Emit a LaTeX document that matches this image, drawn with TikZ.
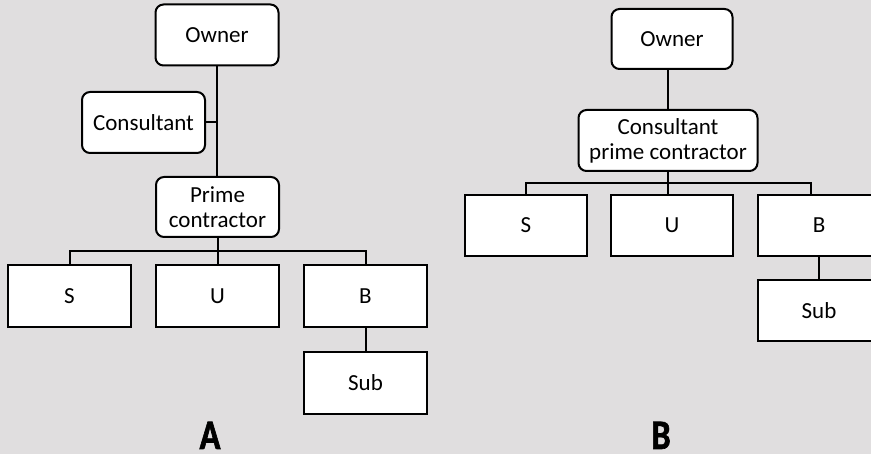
\documentclass[tikz,border=0pt]{standalone}
\usepackage{fontspec}
\setmainfont{Carlito}
\newfontfamily\labelfont[FakeStretch=0.82,FakeBold=1.5]{Carlito Bold}
\usepackage{tikz}
\usetikzlibrary{positioning,calc}
\definecolor{bggray}{RGB}{224,222,223}

\begin{document}
\begin{tikzpicture}[x=1pt, y=-1pt, line width=2pt, font=\fontsize{23}{25}\selectfont,
  rbox/.style = {rectangle, rounded corners=8pt, draw, fill=white, align=center, inner sep=0pt, minimum width=123pt, minimum height=61pt},
  sbox/.style = {rectangle, draw, fill=white, inner sep=0pt, minimum width=123pt, minimum height=62pt},
  tag/.style = {font=\labelfont\fontsize{42}{42}\selectfont, anchor=base, inner sep=0pt, text depth=0pt}]

\fill[bggray] (0,0) rectangle (871,454);
\useasboundingbox (0,0) rectangle (871,454);

% structure A
\node[rbox] (oA) at (217,35) {Owner};
\node[rbox] (cA) at (143.5,122.5) {Consultant};
\node[rbox, minimum height=60pt] (pA) at (217.5,207) {Prime\\contractor};
\node[sbox] (sA) at (69.5,296) {S};
\node[sbox] (uA) at (217.5,296) {U};
\node[sbox] (bA) at (365.5,296) {B};
\node[sbox] (subA) at (365.5,383) {Sub};
\coordinate (busA) at (217.5,251);
\node[tag] (tA) at (210,449) {A};

\draw (oA.south) -- (oA.south |- pA.north);
\draw (cA.east) -- (cA.east -| oA.south);
\draw (pA.south) -- (busA) -- (uA.north);
\draw (sA.north) |- (busA) -| (bA.north);
\draw (bA.south) -- (subA.north);

% structure B
\node[rbox, minimum width=121pt, minimum height=60pt] (oB) at (672,39) {Owner};
\node[rbox, minimum width=179pt] (cB) at (668,140.5) {Consultant\\prime contractor};
\node[sbox, minimum width=122pt, minimum height=61pt] (sB) at (526,225.5) {S};
\node[sbox, minimum width=122pt, minimum height=61pt] (uB) at (672,225.5) {U};
\node[sbox, minimum width=122pt, minimum height=61pt] (bB) at (819,225.5) {B};
\node[sbox, minimum width=122pt, minimum height=61pt] (subB) at (819,311) {Sub};
\coordinate (busB) at (668,183);
\coordinate (busBr) at (811,183);
\node[tag] (tB) at (661,449) {B};

\draw (cB.north) -- (cB.north |- oB.south);
\draw (cB.south) -- (busB) -- (busB |- uB.north);
\draw (sB.north) |- (busB) -- (busBr) -- (busBr |- bB.north);
\draw (bB.south) -- (subB.north);
\end{tikzpicture}
\end{document}
